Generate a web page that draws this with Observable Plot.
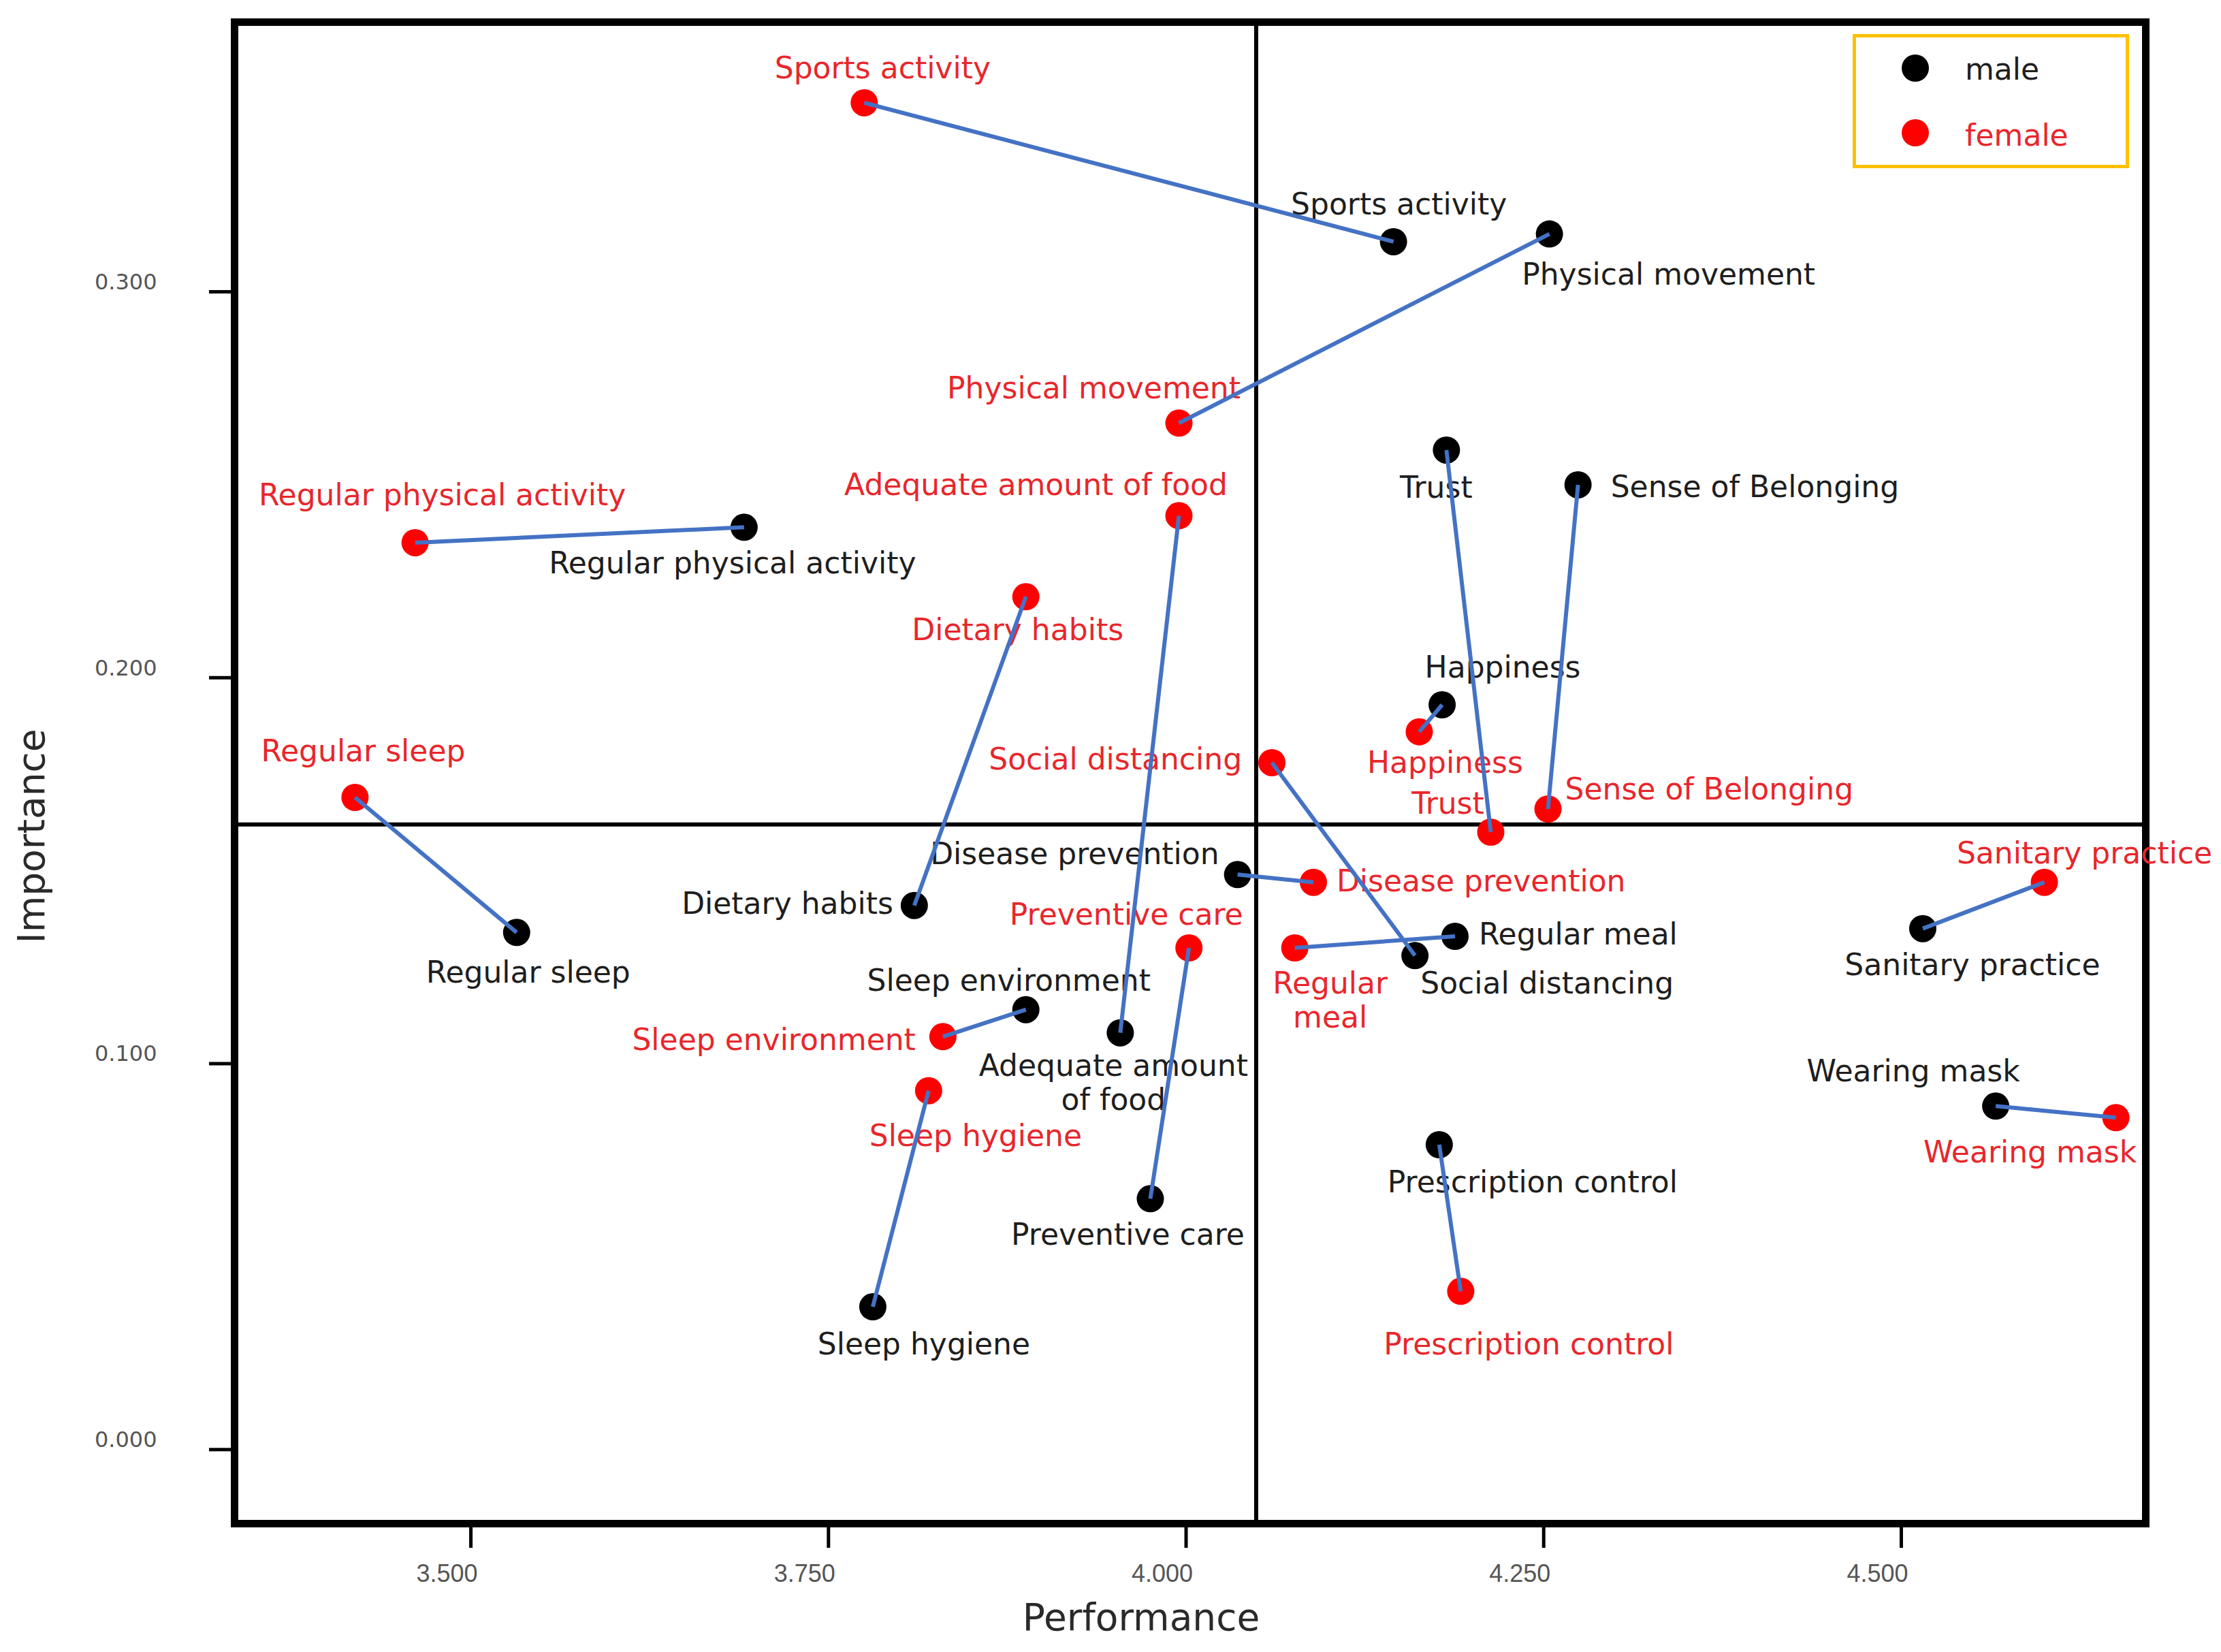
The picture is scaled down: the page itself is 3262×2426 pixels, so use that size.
<!DOCTYPE html>
<html>
<head>
<meta charset="utf-8">
<script src="https://cdn.jsdelivr.net/npm/d3@7"></script>
<script src="https://cdn.jsdelivr.net/npm/@observablehq/plot@0.6"></script>
<style>
  html, body { margin: 0; padding: 0; background: #fff; }
  #wrap { position: relative; width: 3262px; height: 2426px; }
  #legend { position: absolute; left: 2721px; top: 50px; width: 406px; height: 197px;
            border: 5px solid #FFC000; box-sizing: border-box; background: #fff;
            font-family: "DejaVu Sans", sans-serif; font-size: 44px; }
  .lg-dot { position: absolute; width: 40px; height: 40px; border-radius: 50%; }
  .lg-txt { position: absolute; line-height: 44px; }
</style>
</head>
<body>
<div id="wrap"></div>
<script>
// ---------------- data ----------------
const items = [
  "Sports activity", "Physical movement", "Regular physical activity", "Trust",
  "Sense of Belonging", "Happiness", "Disease prevention", "Dietary habits",
  "Regular sleep", "Regular meal", "Social distancing", "Sanitary practice",
  "Sleep environment", "Adequate amount of food", "Wearing mask",
  "Prescription control", "Preventive care", "Sleep hygiene"
];
const malePerformance   = [4.145, 4.254, 3.691, 4.182, 4.274, 4.179, 4.036, 3.810, 3.532, 4.188, 4.160, 4.515, 3.888, 3.954, 4.566, 4.177, 3.975, 3.781];
const maleImportance    = [0.313, 0.315, 0.239, 0.259, 0.250, 0.193, 0.149, 0.141, 0.134, 0.133, 0.128, 0.135, 0.114, 0.108, 0.089, 0.079, 0.065, 0.037];
const femalePerformance = [3.775, 3.995, 3.461, 4.213, 4.253, 4.163, 4.089, 3.888, 3.419, 4.076, 4.060, 4.600, 3.830, 3.995, 4.650, 4.192, 4.002, 3.820];
const femaleImportance  = [0.349, 0.266, 0.235, 0.160, 0.166, 0.186, 0.147, 0.221, 0.169, 0.130, 0.178, 0.147, 0.107, 0.242, 0.086, 0.041, 0.130, 0.093];
const meanPerformance = 4.049;
const meanImportance = 0.162;
const xTicks = [3.5, 3.75, 4.0, 4.25, 4.5];
const yTicks = [0.0, 0.1, 0.2, 0.3];
const groups = ["male", "female"];
const xTitle = "Performance";
const yTitle = "Importance";

// ---------------- layout (label placement, px) ----------------
const maleLabelLayout = {
  "Sports activity": [8, -56, "middle"],
  "Physical movement": [175, 58, "middle"],
  "Regular physical activity": [-17, 52, "middle"],
  "Trust": [-15, 54, "middle"],
  "Sense of Belonging": [48, 2, "start"],
  "Happiness": [89, -56, "middle"],
  "Disease prevention": [-27, -31, "end"],
  "Dietary habits": [-31, -4, "end"],
  "Regular sleep": [17, 58, "middle"],
  "Regular meal": [35, -4, "start"],
  "Social distancing": [194, 40, "middle"],
  "Sanitary practice": [73, 52, "middle"],
  "Sleep environment": [-25, -44, "middle"],
  "Adequate amount of food": [-10, 72, "middle", "Adequate amount\nof food"],
  "Wearing mask": [-121, -52, "middle"],
  "Prescription control": [137, 54, "middle"],
  "Preventive care": [-33, 52, "middle"],
  "Sleep hygiene": [75, 54, "middle"]
};
const femaleLabelLayout = {
  "Sports activity": [27, -52, "middle"],
  "Physical movement": [-125, -52, "middle"],
  "Regular physical activity": [40, -71, "middle"],
  "Trust": [-63, -43, "middle"],
  "Sense of Belonging": [25, -30, "start"],
  "Happiness": [38, 44, "middle"],
  "Disease prevention": [34, -3, "start"],
  "Dietary habits": [-12, 48, "middle"],
  "Regular sleep": [12, -69, "middle"],
  "Regular meal": [52, 76, "middle", "Regular\nmeal"],
  "Social distancing": [-44, -6, "end"],
  "Sanitary practice": [59, -44, "middle"],
  "Sleep environment": [-40, 4, "end"],
  "Adequate amount of food": [-210, -46, "middle"],
  "Wearing mask": [-126, 50, "middle"],
  "Prescription control": [100, 77, "middle"],
  "Preventive care": [-92, -50, "middle"],
  "Sleep hygiene": [69, 65, "middle"]
};

const colors = { male: "#000000", female: "#ff0000" };
const textColors = { male: "#1e1e1e", female: "#e8262b" };

const records = items.map((name, i) => ({
  name,
  mx: malePerformance[i], my: maleImportance[i],
  fx: femalePerformance[i], fy: femaleImportance[i]
}));

const W = 3262, H = 2426;
const mL = 344, mR = 111, mT = 32, mB = 189;

const labelMarks = [];
for (const g of groups) {
  const layout = g === "male" ? maleLabelLayout : femaleLabelLayout;
  for (const rec of records) {
    const [dx, dy, anchor, txt] = layout[rec.name];
    labelMarks.push(Plot.text([rec], {
      x: g === "male" ? "mx" : "fx",
      y: g === "male" ? "my" : "fy",
      text: () => txt || rec.name,
      dx, dy,
      textAnchor: anchor,
      lineAnchor: "middle",
      lineHeight: 1.14,
      fontSize: 44,
      fill: textColors[g]
    }));
  }
}

const chart = Plot.plot({
  width: W, height: H,
  marginLeft: mL, marginRight: mR, marginTop: mT, marginBottom: mB,
  style: { fontFamily: "DejaVu Sans, sans-serif", background: "#fff", overflow: "visible" },
  x: { domain: [3.3348, 4.6709] },
  y: { domain: [-0.0192, 0.3699] },
  marks: [
    Plot.ruleX([meanPerformance], { stroke: "#000", strokeWidth: 6 }),
    Plot.ruleY([meanImportance], { stroke: "#000", strokeWidth: 6 }),
    Plot.frame({ stroke: "#000", strokeWidth: 11 }),
    Plot.axisY(yTicks, {
      tickFormat: d3.format(".3f"), tickSize: 37, tickPadding: 77,
      fontSize: 32, label: null, stroke: "#000", strokeWidth: 5, fill: "#555"
    }),
    Plot.axisX(xTicks, {
      tickFormat: d3.format(".3f"), tickSize: 36, tickPadding: 24,
      fontSize: 36, label: null, stroke: "#000", strokeWidth: 5, fill: "#555"
    }),
    Plot.text([xTitle], { frameAnchor: "bottom", text: d => d, dx: -72, dy: 139,
      fontSize: 55, fill: "#2a2a2a", lineAnchor: "middle" }),
    ...labelMarks,
    Plot.dot(records, { x: "mx", y: "my", r: 20, fill: colors.male }),
    Plot.dot(records, { x: "fx", y: "fy", r: 20, fill: colors.female }),
    Plot.link(records, { x1: "mx", y1: "my", x2: "fx", y2: "fy",
      stroke: "#4472C4", strokeWidth: 6 })
  ]
});

// x tick labels: narrower font, shifted slightly left like the original
const xl = chart.querySelector('g[aria-label="x-axis tick label"]');
if (xl) {
  xl.setAttribute("font-family", "Liberation Sans, Arial, sans-serif");
  xl.setAttribute("transform", (xl.getAttribute("transform") || "") + " translate(-35,0)");
}
// y tick labels sit slightly above their ticks in the original
const yl = chart.querySelector('g[aria-label="y-axis tick label"]');
if (yl) {
  yl.setAttribute("transform", (yl.getAttribute("transform") || "") + " translate(0,-14)");
}

// y axis title (rotated), placed beside the frame
const ns = "http://www.w3.org/2000/svg";
const yt = document.createElementNS(ns, "text");
yt.textContent = yTitle;
yt.setAttribute("transform", "translate(46,1228) rotate(-90)");
yt.setAttribute("text-anchor", "middle");
yt.setAttribute("dominant-baseline", "central");
yt.setAttribute("font-size", "55");
yt.setAttribute("fill", "#2a2a2a");
chart.appendChild(yt);

const wrap = document.getElementById("wrap");
wrap.appendChild(chart);

// legend
const legend = document.createElement("div");
legend.id = "legend";
groups.forEach((g, i) => {
  const dot = document.createElement("div");
  dot.className = "lg-dot";
  dot.style.background = colors[g];
  dot.style.left = (92 - 20 - 5) + "px";
  dot.style.top = (50 + i * 95 - 20 - 5) + "px";
  legend.appendChild(dot);
  const t = document.createElement("div");
  t.className = "lg-txt";
  t.textContent = g;
  t.style.color = textColors[g];
  t.style.left = (165 - 5) + "px";
  t.style.top = (52 + i * 97 - 22 - 5) + "px";
  legend.appendChild(t);
});
wrap.appendChild(legend);
</script>
</body>
</html>
